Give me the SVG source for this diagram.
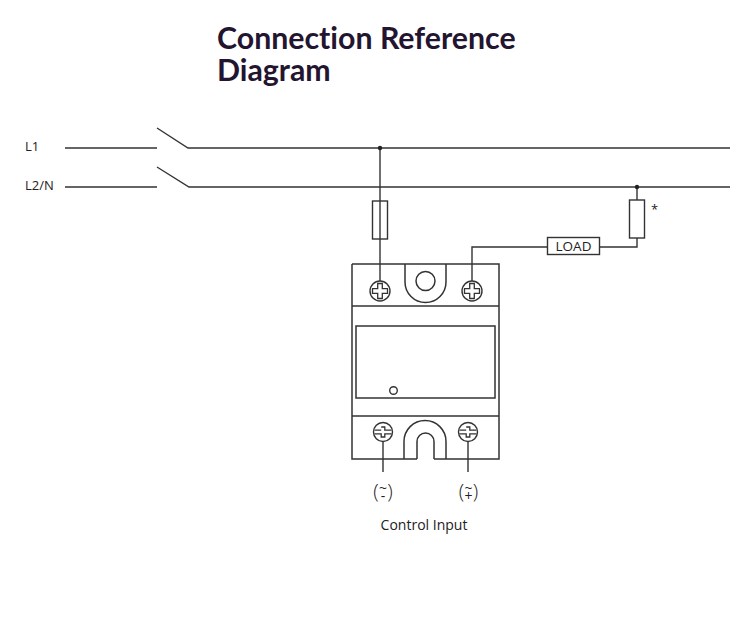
<svg xmlns="http://www.w3.org/2000/svg" width="750" height="620" viewBox="0 0 750 620">
<style>
.w{fill:none;stroke:#333;stroke-width:1.4}
.d{fill:none;stroke:#333;stroke-width:1.5}
.lbl{font-family:"Open Sans","Liberation Sans",sans-serif;fill:#222}
.title{font-family:Lato,"Liberation Sans",sans-serif;font-weight:bold;font-size:30.3px;fill:#23152f;font-variant-ligatures:none}
.p{font-size:20px;font-weight:300}
.s{font-size:14px}
</style>
<defs>
<g id="crossScrew">
<circle r="10" fill="#fff" stroke="#333" stroke-width="1.4"/>
<path d="M-2.3,-7.5 H2.3 V-2.3 H7.5 V2.3 H2.3 V7.5 H-2.3 V2.3 H-7.5 V-2.3 H-2.3 Z" fill="none" stroke="#333" stroke-width="1.3"/>
</g>
<g id="slotScrew">
<circle r="9.5" fill="#fff" stroke="#333" stroke-width="1.4"/>
<path d="M-1.8,-5 H1.8 V-1.8 H8.5 M8.5,1.8 H1.8 V5 H-1.8 V1.8 H-8.5 M-8.5,-1.8 H-1.8 Z" fill="none" stroke="#333" stroke-width="1.3"/>
</g>
</defs>
<rect width="750" height="620" fill="#fff"/>
<g id="title">
<text class="title"><tspan x="217" y="49">Connection Reference</tspan><tspan x="217" y="81">Diagram</tspan></text>
</g>
<g id="line-labels">
<text class="lbl" x="25" y="151" font-size="13">L1</text>
<text class="lbl" x="25" y="190" font-size="13">L2/N</text>
</g>
<g id="connectors">
<path class="w" d="M65,148 H157 M157,128 L188,148 H730"/>
<path class="w" d="M65,187 H157 M157,167 L189,187 H730"/>
<path class="w" d="M380,148 V281"/>
<path class="w" d="M637,187 V200 M637,238 V247 H599 M547,247 H472 V281"/>
<path class="w" d="M383,441.5 V472 M468,441.5 V472"/>
<circle cx="380" cy="148" r="2.2" fill="#222"/>
<circle cx="637" cy="187" r="2.2" fill="#222"/>
</g>
<g id="fuse-l1">
<rect class="w" x="372.5" y="201" width="15" height="38"/>
</g>
<g id="fuse-load">
<rect class="w" x="629.5" y="200" width="15" height="38" fill="#fff"/>
<text class="lbl" x="651" y="214" font-size="13">*</text>
</g>
<g id="load">
<rect class="w" x="547.5" y="237.5" width="52" height="17" fill="#fff"/>
<text class="lbl" x="573.5" y="251" font-size="13.5" text-anchor="middle">LOAD</text>
</g>
<g id="relay">
<path class="d" d="M352,264 H499 V459 H434 M417,459 H352 V264"/>
<path class="d" d="M352,306 H499 M352,416 H499"/>
<path class="d" d="M405,264 V282 A20.5,20.5 0 0 0 446,282 V264"/>
<circle class="d" cx="425.5" cy="281" r="9.5"/>
<rect class="d" x="356" y="326" width="139" height="72"/>
<circle class="w" cx="393.5" cy="390.5" r="3.8"/>
<path class="d" d="M404,459 V441.5 A21,21 0 0 1 446,441.5 V459"/>
<path class="d" d="M417,459 V441.5 A8.5,8.5 0 0 1 434,441.5 V459"/>
<use href="#crossScrew" x="380" y="291"/>
<use href="#crossScrew" x="472" y="291"/>
<use href="#slotScrew" x="383" y="432"/>
<use href="#slotScrew" x="468" y="432"/>
</g>
<g id="control-labels">
<text class="lbl" text-anchor="middle"><tspan class="p" x="376" y="499">(</tspan><tspan class="s" x="383" y="493">~</tspan><tspan class="s" x="383" y="500.5">-</tspan><tspan class="p" x="390" y="499">)</tspan></text>
<text class="lbl" text-anchor="middle"><tspan class="p" x="461.5" y="499">(</tspan><tspan class="s" x="468.5" y="493">~</tspan><tspan class="s" x="468.5" y="501">+</tspan><tspan class="p" x="475.5" y="499">)</tspan></text>
<text class="lbl" x="424" y="530" font-size="14" text-anchor="middle">Control Input</text>
</g>
</svg>
